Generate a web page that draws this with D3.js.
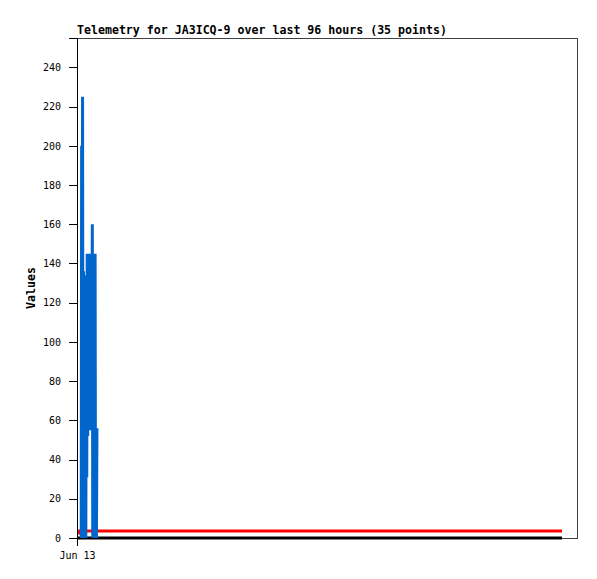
<!DOCTYPE html>
<html><head><meta charset="utf-8">
<script src="https://cdn.jsdelivr.net/npm/d3@7"></script>
<style>body{margin:0;background:#fff}svg{display:block}</style>
</head><body>
<svg id="c" width="597" height="579"></svg>
<script>
const title = "Telemetry for JA3ICQ-9 over last 96 hours (35 points)";
const yLabel = "Values";
const startTime = "2024-06-13T00:00:00Z";
const spanHours = 96;
const xTickLabels = ["Jun 13"];
const yTicks = [0,20,40,60,80,100,120,140,160,180,200,220,240];
// minutes after start for the 35 telemetry points
const blueMinutes = [50,55,61,66,72,77,83,88,94,99,105,110,116,121,127,132,138,143,149,154,160,165,171,176,182,187,193,198,204,209,215,220,226,231,237];
const blueValues = [0,200,72,225,0,136,60,134,40,96,0,128,31,145,52,145,60,145,70,145,55,145,60,100,160,0,145,56,0,56,145,0,56,0,56];
const redMinutes = [0,20,5760];
const redValues = [2.6,3.6,3.6];
const zeroMinutes = [0,5760];
const zeroValues = [0,0];

const svg = d3.select("#c");
const L=77,R=577,T=38,B=538, dataR=562;
const t0 = new Date(startTime);
const toDate = m => new Date(t0.getTime()+m*60000);
const x = d3.scaleUtc().domain([t0, toDate(spanHours*60)]).range([L, dataR]);
const y = d3.scaleLinear().domain([0,255]).range([B,T]);

const line = d3.line().x(d=>x(toDate(d[0]))).y(d=>y(d[1]));

svg.append("path").datum(zeroMinutes.map((m,i)=>[m,zeroValues[i]]))
  .attr("d",line).attr("fill","none").attr("stroke","#000").attr("stroke-width",3);
svg.append("path").datum(redMinutes.map((m,i)=>[m,redValues[i]]))
  .attr("d",d3.line().curve(d3.curveStepAfter).x(d=>x(toDate(d[0]))).y(d=>y(d[1])))
  .attr("fill","none").attr("stroke","#ff0000").attr("stroke-width",3);
svg.append("path").datum(blueMinutes.map((m,i)=>[m,blueValues[i]]))
  .attr("d",line).attr("fill","none").attr("stroke","#0066cc").attr("stroke-width",3)
  .attr("stroke-linejoin","miter");

// frame
svg.append("path").attr("d",`M${L},${T}H${R}V${B}H${dataR}`).attr("fill","none")
  .attr("stroke","#404040").attr("stroke-width",1).attr("shape-rendering","crispEdges");

const yAxis = svg.append("g").attr("transform",`translate(${L},0)`)
  .call(d3.axisLeft(y).tickValues(yTicks).tickSize(8).tickPadding(8).tickFormat(d3.format("d")));
yAxis.select(".domain").attr("stroke","#000").attr("shape-rendering","crispEdges");
yAxis.selectAll("line").attr("shape-rendering","crispEdges");
yAxis.selectAll("text").attr("font-family","'DejaVu Sans Mono', monospace").attr("font-size","10px").attr("fill","#000");

const xAxis = svg.append("g").attr("transform",`translate(0,${B})`)
  .call(d3.axisBottom(x).tickValues([t0]).tickSize(8).tickPadding(6).tickFormat((d,i)=>xTickLabels[i]));
xAxis.select(".domain").remove();
xAxis.selectAll("line").attr("shape-rendering","crispEdges");
xAxis.selectAll("text").attr("font-family","'DejaVu Sans Mono', monospace").attr("font-size","10px").attr("fill","#000");

svg.append("text").attr("x",L).attr("y",34).text(title)
  .attr("font-family","'DejaVu Sans Mono', monospace").attr("font-weight","bold").attr("font-size","11.6px");
svg.append("text").attr("transform",`translate(35,${(T+B)/2}) rotate(-90)`).attr("text-anchor","middle").text(yLabel)
  .attr("font-family","'DejaVu Sans Mono', monospace").attr("font-weight","bold").attr("font-size","11.6px");
</script>
</body></html>
